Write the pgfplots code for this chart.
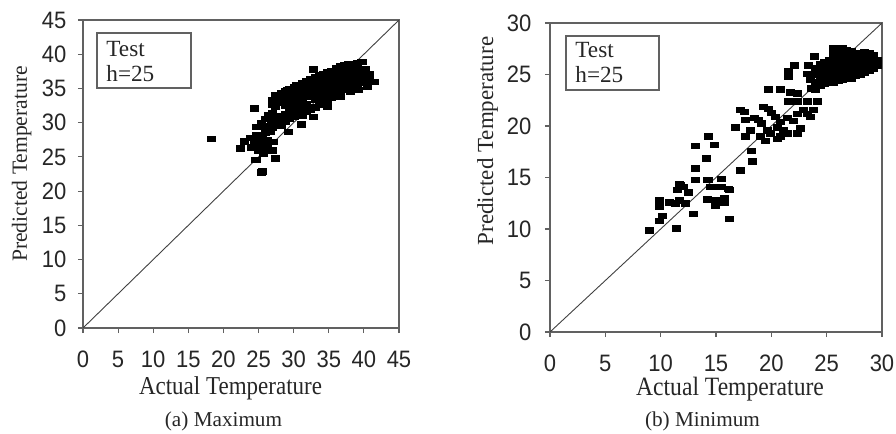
\documentclass[border=0pt]{standalone}
\usepackage{pgfplots}
\pgfplotsset{compat=1.18}
\usepackage{fontspec}
\setmainfont{Liberation Serif}
\newfontfamily\tickfont{Liberation Sans}

\definecolor{axisgray}{gray}{0.38}
\definecolor{diaggray}{gray}{0.25}

\pgfplotsset{
  scatterpanel/.style={
    scale only axis,
    anchor=south west,
    axis line style={axisgray, line width=0.55pt},
    tick style={axisgray, line width=0.55pt},
    tick align=outside,
    major tick length=2.6pt,
    xtick pos=bottom,
    ytick pos=left,
    /pgf/number format/assume math mode=true,
    ticklabel style={font=\tickfont\fontsize{11}{12}\selectfont, text=black!85,
      yscale=1.08},
  },
  pts/.style={only marks, mark=square*, mark size=2pt,
    mark options={fill=black, draw=black, line width=0.1pt, yscale=0.68}},
}

\begin{document}
\begin{tikzpicture}
\path[use as bounding box] (0pt,0pt) rectangle (448pt,217pt);

% ---------------- (a) Maximum ----------------
\begin{axis}[scatterpanel,
  at={(41.5pt,53pt)}, width=158pt, height=154pt,
  xmin=0, xmax=45, ymin=0, ymax=45,
  xtick={0,5,...,45}, ytick={0,5,...,45},
  xticklabel style={yshift=-4.7pt},
  yticklabel style={xshift=-2.2pt}]
\addplot[diaggray, line width=0.45pt] coordinates {(0,0) (45,45)};
\addplot[pts] coordinates {
 (18.3,27.7) (22.4,26.3) (22.9,27.3) (24.3,32.1) (24.6,24.6) (25.4,22.8)
 (27.3,24.8) (29.2,28.7) (31.0,29.8) (32.7,37.8) (41.4,36.0) (40.4,35.3)
 (39.2,34.8) (34.7,32.4) (32.8,30.9) (36.6,33.8) (38.0,34.5)
 (23.8,27.8) (24.3,27.0) (24.6,28.2) (24.6,29.4) (25.0,26.0) (25.2,26.3)
 (25.5,28.0) (25.7,25.5) (25.9,27.0) (26.2,26.3) (26.2,27.5) (26.6,28.7)
 (26.9,26.0) (27.1,27.2) (27.1,29.7) (24.5,24.6) (25.5,22.9) (27.4,24.8)
 (25.8,29.5) (26.0,30.6) (26.3,31.2) (25.3,30.0) (26.8,30.0) (25.0,27.3)
 (25.9,28.6) (24.0,26.4) (27.4,32.4) (27.8,33.1) (27.4,34.1) (29.0,34.8)
 (30.4,35.5) (31.9,35.8) (35.7,37.2) (37.6,38.2) (39.0,38.7) (39.7,38.9)
 (27.0,29.3) (27.0,30.4) (27.0,31.5) (27.0,32.6) (27.0,33.4)
 (27.6,30.0) (27.6,31.0) (27.6,33.2) (27.6,34.0)
 (28.2,29.6) (28.2,30.7) (28.2,33.0) (28.2,34.3)
 (28.8,30.2) (28.8,31.3) (28.8,32.5) (28.8,33.6) (28.8,34.6)
 (29.4,30.6) (29.4,31.8) (29.4,32.8) (29.4,33.9) (29.4,35.0)
 (30.0,30.9) (30.0,32.0) (30.0,33.1) (30.0,34.2) (30.0,35.2)
 (30.6,31.3) (30.6,32.5) (30.6,33.4) (30.6,34.5) (30.6,35.6)
 (31.2,31.0) (31.2,32.2) (31.2,33.6) (31.2,34.8) (31.2,35.8)
 (31.8,31.6) (31.8,32.8) (31.8,33.9) (31.8,35.0) (31.8,36.1)
 (32.4,31.9) (32.4,34.3) (32.4,35.4) (32.4,36.4)
 (33.0,32.3) (33.0,33.4) (33.0,34.5) (33.0,35.7) (33.0,36.7)
 (33.6,32.6) (33.6,33.8) (33.6,34.9) (33.6,36.0) (33.6,37.0)
 (34.2,33.0) (34.2,34.1) (34.2,35.3) (34.2,36.3) (34.2,37.2)
 (34.8,33.3) (34.8,34.5) (34.8,35.6) (34.8,36.6) (34.8,37.5)
 (35.4,33.7) (35.4,34.8) (35.4,35.9) (35.4,36.9) (35.4,37.6)
 (36.0,34.0) (36.0,35.1) (36.0,36.2) (36.0,37.2) (36.0,38.0)
 (36.6,34.4) (36.6,35.5) (36.6,36.5) (36.6,37.5) (36.6,38.3)
 (37.2,34.8) (37.2,35.8) (37.2,36.8) (37.2,37.7) (37.2,38.4)
 (37.8,35.1) (37.8,36.1) (37.8,37.1) (37.8,38.0) (37.8,38.6)
 (38.4,35.4) (38.4,36.4) (38.4,37.4) (38.4,38.2)
 (39.0,35.7) (39.0,36.7) (39.0,37.6) (39.0,38.6)
 (39.6,35.9) (39.6,36.9) (39.6,37.8) (39.6,38.9)
 (40.2,36.1) (40.2,37.0) (40.2,37.9)
 (40.8,36.3) (40.8,37.2)
};
\end{axis}

% ---------------- (b) Minimum ----------------
\begin{axis}[scatterpanel,
  at={(275pt,51pt)}, width=166pt, height=154.5pt,
  xmin=0, xmax=30, ymin=0, ymax=30,
  xtick={0,5,...,30}, ytick={0,5,...,30},
  xticklabel style={yshift=-4.6pt},
  yticklabel style={xshift=-3.2pt}]
\addplot[diaggray, line width=0.45pt] coordinates {(0,0) (30,30)};
\addplot[pts] coordinates {
 (9.0,9.9) (11.4,10.1) (10.1,11.3) (9.9,10.8) (9.9,12.8) (9.9,12.2)
 (10.8,12.6) (11.3,12.5) (11.7,12.8) (11.8,14.3) (11.5,13.8) (12.5,13.6)
 (12.2,12.5) (12.9,11.5) (13.1,15.9) (13.1,14.8) (13.1,18.1) (14.3,19.0)
 (14.8,18.2) (14.1,16.9) (14.3,14.8) (14.7,14.1) (15.1,14.1) (15.5,14.9)
 (14.2,12.9) (14.9,12.8) (15.7,13.0) (14.9,12.3) (15.7,12.6) (16.2,13.8)
 (16.2,11.0) (11.7,14.4) (12.0,14.1) (14.2,14.8) (14.5,14.1) (15.5,14.1)
 (16.1,13.9)
 (17.2,15.7) (18.3,16.6) (18.2,17.6) (16.7,19.9) (17.2,21.6) (17.5,21.4)
 (17.6,20.6) (18.4,20.8) (18.8,20.6) (19.1,20.3) (17.6,19.0) (18.1,19.6)
 (19.0,19.0) (19.6,19.6) (19.4,18.6) (19.9,19.3) (19.3,21.9) (19.7,21.7)
 (20.0,21.3) (20.3,20.9) (20.8,20.4) (20.5,19.9) (21.1,19.6) (21.4,19.3)
 (20.8,19.0) (20.5,18.8) (21.4,20.8) (22.0,20.5) (22.3,21.2) (22.6,19.8)
 (22.3,19.3) (21.5,22.4) (22.3,22.4) (23.2,22.4) (19.7,23.6) (20.8,23.6)
 (21.7,23.3) (22.3,23.2) (21.5,25.4) (21.5,24.8) (22.1,25.9) (23.3,25.9)
 (23.2,25.1) (23.5,24.5) (23.6,23.7) (23.9,26.8) (22.9,21.6) (23.2,21.2)
 (24.1,22.4) (23.8,21.6) (23.5,20.9)
 (24.0,23.6) (24.0,24.3) (24.0,25.0) (24.0,25.6)
 (24.4,23.9) (24.4,24.6) (24.4,25.3) (24.4,26.0)
 (24.8,24.1) (24.8,24.8) (24.8,25.5) (24.8,26.2)
 (25.2,24.3) (25.2,25.0) (25.2,25.7) (25.2,26.4)
 (25.6,24.2) (25.6,24.9) (25.6,25.6) (25.6,26.3) (25.6,27.0)
 (26.0,24.4) (26.0,25.1) (26.0,25.8) (26.0,26.5) (26.0,27.2)
 (26.4,24.5) (26.4,25.2) (26.4,25.9) (26.4,26.6) (26.4,27.3)
 (26.8,24.7) (26.8,25.4) (26.8,26.1) (26.8,26.8) (26.8,27.4)
 (27.2,24.6) (27.2,25.3) (27.2,26.0) (27.2,26.7) (27.2,27.3)
 (27.6,24.9) (27.6,25.6) (27.6,26.3) (27.6,27.0)
 (28.0,25.0) (28.0,25.7) (28.0,26.4) (28.0,27.1)
 (28.4,25.2) (28.4,25.9) (28.4,26.6) (28.4,27.2)
 (28.8,25.4) (28.8,26.1) (28.8,26.8)
 (29.2,25.6) (29.2,26.3) (29.2,26.9)
 (29.6,25.9) (29.6,26.4)
 (25.6,27.6) (26.4,27.6) (28.8,27.1) (29.2,26.1)
};
\end{axis}

% ---------------- labels and inset boxes ----------------
\begin{scope}[every node/.style={inner sep=0pt, text=black!85}]
\node[anchor=base, yscale=1.12, font=\fontsize{11.5}{13}\selectfont] at (115.25pt,19.5pt) {Actual Temperature};
\node[anchor=base, font=\fontsize{10.6}{13}\selectfont] at (111.75pt,3.5pt) {(a) Maximum};
\node[anchor=base, rotate=90, font=\fontsize{10.8}{13}\selectfont] at (13.5pt,135pt) {Predicted Temperature};
\node[anchor=base, yscale=1.12, font=\fontsize{11.8}{13}\selectfont] at (365pt,19pt) {Actual Temperature};
\node[anchor=base, font=\fontsize{10.6}{13}\selectfont] at (351.25pt,3.5pt) {(b) Minimum};
\node[anchor=base, rotate=90, font=\fontsize{11.5}{13}\selectfont] at (246.5pt,146.5pt) {Predicted Temperature};

\draw[axisgray, line width=0.6pt] (48.5pt,173pt) rectangle (95.5pt,200.5pt);
\node[anchor=base west, font=\fontsize{11.6}{13}\selectfont] at (53pt,188.5pt) {Test};
\node[anchor=base west, font=\fontsize{11.6}{13}\selectfont] at (53pt,176pt) {h=25};
\draw[axisgray, line width=0.6pt] (283pt,172pt) rectangle (329.5pt,199pt);
\node[anchor=base west, font=\fontsize{11.6}{13}\selectfont] at (287.5pt,188pt) {Test};
\node[anchor=base west, font=\fontsize{11.6}{13}\selectfont] at (287.5pt,175.5pt) {h=25};
\end{scope}
\end{tikzpicture}
\end{document}
